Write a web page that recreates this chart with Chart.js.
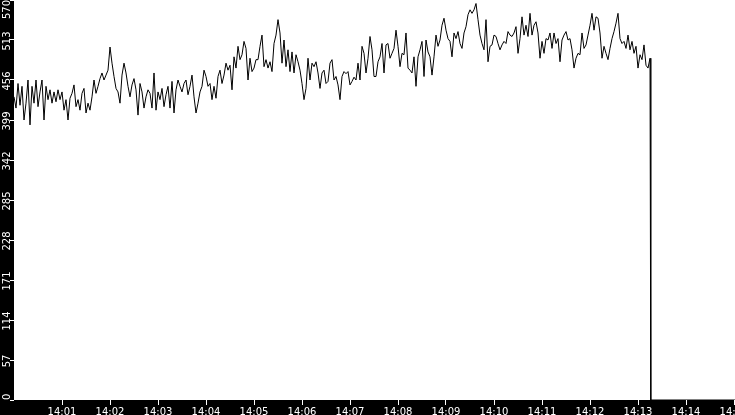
<!DOCTYPE html>
<html>
<head>
<meta charset="utf-8">
<script src="https://cdn.jsdelivr.net/npm/chart.js@4.4.1/dist/chart.umd.min.js"></script>
<style>
  html, body { margin: 0; padding: 0; background: #000; }
  canvas { display: block; background: #000; }
</style>
</head>
<body>
<canvas id="rateChart" width="735" height="415"></canvas>
<script>
// one reading every 2.5 s, first one at 14:00:00
const sampleStep = 2.5;
const rateValues = [
  432, 416, 451, 420, 447, 399, 423, 456, 392, 447, 423, 456, 418, 439, 456, 399, 447, 428, 442, 423,
  439, 425, 442, 428, 439, 413, 428, 399, 430, 437, 449, 418, 428, 413, 437, 444, 409, 423, 413, 432,
  456, 437, 447, 458, 466, 456, 463, 470, 503, 480, 461, 444, 439, 423, 463,
  480, 466, 447, 432, 449, 458, 442, 406, 451, 439, 416, 432, 442, 437, 416, 466, 413, 439, 428, 444,
  418, 435, 447, 416, 454, 409, 442, 456, 447, 439, 451, 456, 435, 447, 463, 432, 409, 423, 439, 447,
  470, 461, 447, 451, 428, 447, 430, 461, 470, 451, 463, 480, 470, 477, 442,
  489, 473, 504, 485, 492, 511, 501, 456, 487, 468, 473, 485, 485, 504, 520, 475, 485, 473, 482, 468,
  508, 520, 542, 523, 480, 513, 475, 499, 468, 496, 466, 492, 482, 470, 451, 428, 444, 487, 456, 480,
  475, 482, 466, 444, 466, 470, 451, 454, 480, 485, 456, 461, 449, 428, 461,
  468, 465, 468, 449, 454, 460, 456, 480, 456, 504, 494, 466, 487, 518, 499, 461, 461, 482, 489, 508,
  466, 506, 508, 487, 494, 501, 527, 504, 475, 494, 492, 523, 473, 470, 466, 489, 447, 489, 499, 511,
  461, 513, 496, 489, 463, 489, 520, 504, 513, 534, 544, 527, 515, 511, 489,
  523, 515, 525, 508, 501, 523, 532, 549, 556, 551, 556, 565, 542, 520, 508, 499, 542, 482, 504, 506,
  520, 518, 508, 499, 506, 511, 508, 525, 520, 518, 523, 532, 494, 515, 546, 520, 534, 518, 551, 520,
  534, 539, 523, 487, 511, 494, 515, 513, 523, 501, 523, 508, 515, 482, 513,
  520, 525, 513, 515, 499, 473, 487, 494, 492, 523, 501, 506, 520, 534, 551, 527, 546, 544, 523, 487,
  504, 494, 485, 501, 515, 525, 537, 551, 515, 508, 511, 501, 520, 499, 511, 494, 504, 473, 492, 485,
  506, 477, 473, 487
];
// feed stops around 14:13:16 and reads zero after that
const tailSeconds = [796, 905];
const tailValues = [0, 0];

const yTickValues = [0, 57, 114, 171, 228, 285, 342, 399, 456, 513, 570];
const xTickSeconds = [60, 120, 180, 240, 300, 360, 420, 480, 540, 600, 660, 720, 780, 840, 900];
const xTickLabels = ['14:01', '14:02', '14:03', '14:04', '14:05', '14:06', '14:07', '14:08',
  '14:09', '14:10', '14:11', '14:12', '14:13', '14:14', '14:15'];

const points = rateValues.map((v, i) => ({ x: i * sampleStep, y: v }))
  .concat(tailSeconds.map((t, i) => ({ x: t, y: tailValues[i] })));

// white plot area on the black canvas
const plotBackground = {
  id: 'plotBackground',
  beforeDraw(chart) {
    const { ctx, chartArea: a } = chart;
    ctx.save();
    ctx.fillStyle = '#fff';
    ctx.fillRect(a.left, a.top, a.right - a.left, a.bottom - a.top);
    ctx.restore();
  }
};

// y tick labels are written upwards, kept inside the axis length
const yLabels = {
  id: 'yLabels',
  afterDraw(chart) {
    const { ctx, chartArea: a } = chart;
    const scale = chart.scales.y;
    ctx.save();
    ctx.fillStyle = '#fff';
    ctx.font = '10px "DejaVu Sans"';
    ctx.textAlign = 'center';
    ctx.textBaseline = 'alphabetic';
    scale.ticks.forEach(t => {
      const label = String(t.value);
      const half = ctx.measureText(label).width / 2;
      let y = scale.getPixelForValue(t.value) + 1;
      y = Math.min(Math.max(y, a.top + half), a.bottom - half);
      ctx.save();
      ctx.translate(10, y);
      ctx.rotate(-Math.PI / 2);
      ctx.fillText(label, 0, 0);
      ctx.restore();
    });
    ctx.restore();
  }
};

const ctx = document.getElementById('rateChart').getContext('2d');
new Chart(ctx, {
  type: 'line',
  data: {
    datasets: [{
      data: points,
      borderColor: '#000',
      borderWidth: 1,
      pointRadius: 0,
      tension: 0,
      fill: false
    }]
  },
  options: {
    responsive: false,
    animation: false,
    devicePixelRatio: 1,
    layout: { padding: 0 },
    plugins: { legend: { display: false }, tooltip: { enabled: false } },
    scales: {
      x: {
        type: 'linear',
        min: 0,
        max: 901.25,
        afterBuildTicks: s => { s.ticks = xTickSeconds.map(v => ({ value: v })); },
        afterFit: s => { s.height = 15; s.paddingLeft = 0; s.paddingRight = 0; },
        grid: { drawOnChartArea: false, color: '#fff', tickLength: 5 },
        border: { display: false },
        ticks: {
          color: '#fff',
          font: { family: 'DejaVu Sans', size: 10 },
          padding: 1,
          maxRotation: 0,
          autoSkip: false,
          callback: (v, i) => xTickLabels[i]
        }
      },
      y: {
        min: 0,
        max: 570,
        afterBuildTicks: s => { s.ticks = yTickValues.map(v => ({ value: v })); },
        afterFit: s => { s.width = 14; s.paddingTop = 0; s.paddingBottom = 0; },
        grid: { drawOnChartArea: false, color: '#fff', tickLength: 4 },
        border: { display: false },
        ticks: { display: false }
      }
    }
  },
  plugins: [plotBackground, yLabels]
});
</script>
</body>
</html>
